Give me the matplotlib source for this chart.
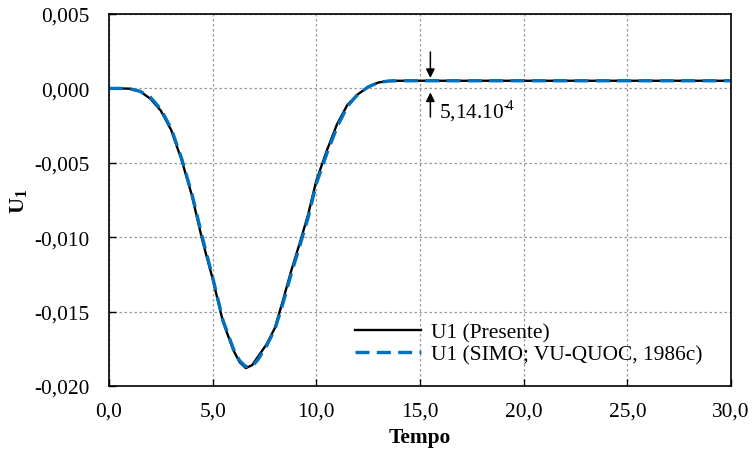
import numpy as np
import matplotlib.pyplot as plt
from matplotlib.ticker import FuncFormatter

plt.rcParams['font.family'] = ['Liberation Serif', 'DejaVu Serif']
plt.rcParams['mathtext.fontset'] = 'custom'
plt.rcParams['mathtext.rm'] = 'Liberation Serif'
plt.rcParams['mathtext.bf'] = 'Liberation Serif:bold'

# Data
t_presente = [0, 0.5, 1.0, 1.5, 2.0, 2.5, 3.0, 3.5, 4.0, 4.5, 5.0, 5.5, 6.0, 6.3,
              6.6, 6.9, 7.2, 7.6, 8.0, 8.4, 8.8, 9.2, 9.6, 10.0, 10.5, 11.0,
              11.5, 12.0, 12.5, 13.0, 13.5, 14.0, 15.0, 20.0, 25.0, 30.0]
u_presente = [0, 0, -0.00002, -0.0002, -0.0007, -0.0015, -0.0028, -0.0048,
              -0.0072, -0.0102, -0.0128, -0.0157, -0.0176, -0.0184, -0.0188,
              -0.0186, -0.0180, -0.0172, -0.0161, -0.0142, -0.0122, -0.0104,
              -0.0085, -0.0062, -0.0042, -0.0024, -0.0011, -0.0004, 0.0001,
              0.0004, 0.0005, 0.000514, 0.000514, 0.000514, 0.000514, 0.000514]

t_simo = [0, 0.5, 1.0, 1.5, 2.0, 2.5, 3.0, 3.5, 4.0, 4.5, 5.0, 5.5, 6.0, 6.3,
          6.6, 6.9, 7.2, 7.6, 8.0, 8.4, 8.8, 9.2, 9.6, 10.0, 10.5, 11.0,
          11.5, 12.0, 12.5, 13.0, 13.5, 14.0, 15.0, 20.0, 25.0, 30.0]
u_simo = [0, 0, -0.00002, -0.0002, -0.0006, -0.0014, -0.0027, -0.0047,
          -0.0071, -0.0100, -0.0127, -0.0156, -0.0175, -0.0183, -0.0187,
          -0.0187, -0.0182, -0.0173, -0.0162, -0.0144, -0.0124, -0.0106,
          -0.0087, -0.0064, -0.0044, -0.0026, -0.0012, -0.0004, 0.0001,
          0.0004, 0.0005, 0.000514, 0.000514, 0.000514, 0.000514, 0.000514]

x_ticks = [0, 5, 10, 15, 20, 25, 30]
y_ticks = [-0.020, -0.015, -0.010, -0.005, 0.000, 0.005]
annot_t = 15.5
annot_u = 0.000514

FS = 15.4

fig = plt.figure(figsize=(7.52, 4.56), dpi=100)
ax = fig.add_axes([109 / 752, 1 - 387 / 456, 622 / 752, 372 / 456])

ax.plot(t_presente, u_presente, color='black', lw=1.7, label='U1 (Presente)')
ax.plot(t_simo, u_simo, color='#0070C0', lw=2.4, ls=(0, (4.2, 2.2)),
        label='U1 (SIMO; VU-QUOC, 1986c)')

ax.set_xlim(0, 30)
ax.set_ylim(-0.020, 0.005)
ax.set_xticks(x_ticks)
ax.set_yticks(y_ticks)
ax.xaxis.set_major_formatter(FuncFormatter(lambda v, p: f"{v:.1f}".replace('.', ',')))
ax.yaxis.set_major_formatter(FuncFormatter(lambda v, p: f"{v:.3f}".replace('.', ',').replace('-0,000', '0,000')))
ax.tick_params(direction='in', length=5, labelsize=FS, width=1)
ax.tick_params(axis='x', pad=11)
ax.tick_params(axis='y', pad=14)
ax.grid(True, color='#999999', ls=(0, (2, 2)), lw=0.9)
for s in ax.spines.values():
    s.set_linewidth(1.2)

ax.set_xlabel('Tempo', fontsize=FS, fontweight='bold', labelpad=5)
ax.set_ylabel(r'$\mathbf{U_1}$', fontsize=16, labelpad=4)

# annotation arrows around the steady value
ax.annotate('', xy=(annot_t, annot_u), xytext=(annot_t, annot_u + 0.00212),
            arrowprops=dict(arrowstyle='-|>', color='black', lw=1.1, mutation_scale=13))
ax.annotate('', xy=(annot_t, annot_u - 0.0006), xytext=(annot_t, annot_u - 0.00262),
            arrowprops=dict(arrowstyle='-|>', color='black', lw=1.1, mutation_scale=13))
ax.text(annot_t + 0.42, annot_u - 0.00195, '5,14.10$^{\u2010\\!4}$', fontsize=FS, va='center')

ax.legend(loc='lower right', frameon=False, fontsize=FS, handlelength=3.1,
          handletextpad=0.45, bbox_to_anchor=(0.985, 0.005), labelspacing=0.12)

fig.savefig('out.png', dpi=100)
